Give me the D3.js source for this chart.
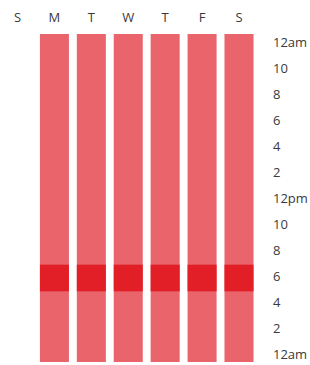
<!DOCTYPE html>
<html>
<head>
<meta charset="utf-8">
<script src="https://cdn.jsdelivr.net/npm/d3@7"></script>
<style>
  html, body { margin: 0; padding: 0; background: #fff; }
  text { font-family: "Open Sans", "Noto Sans", sans-serif; fill: #3a3a3a; }
</style>
</head>
<body>
<div id="chart"></div>
<script>
// week heatmap, one column per day, hours run bottom (12am) to top (12am)
var days = ['S', 'M', 'T', 'W', 'T', 'F', 'S'];
var dayActive = [false, true, true, true, true, true, true];
var hourLabels = ['12am', '10', '8', '6', '4', '2', '12pm', '10', '8', '6', '4', '2', '12am'];
var peakStart = [null, 5, 5, 5, 5, 5, 5];  // hour
var peakEnd = [null, 7, 7, 7, 7, 7, 7];

var width = 310, height = 365;
var colLight = '#e9646b', colDark = '#e21f27';

var svg = d3.select('#chart').append('svg')
  .attr('width', width)
  .attr('height', height);

var x = d3.scaleBand()
  .domain(d3.range(days.length))
  .range([3, 253.5])
  .paddingInner(0.214)
  .paddingOuter(0);

var y = d3.scaleLinear()
  .domain([-0.3, 24.3])
  .range([362, 34]);

var yLabel = d3.scalePoint()
  .domain(d3.range(hourLabels.length))
  .range([42, 353.5]);

var cols = svg.append('g').selectAll('g.day')
  .data(d3.range(days.length).filter(function(i) { return dayActive[i]; }))
  .enter().append('g')
  .attr('class', 'day');

cols.append('rect')
  .attr('x', function(i) { return x(i); })
  .attr('width', x.bandwidth())
  .attr('y', y(24.3))
  .attr('height', y(-0.3) - y(24.3))
  .style('fill', colLight);

cols.append('rect')
  .attr('x', function(i) { return x(i); })
  .attr('width', x.bandwidth())
  .attr('y', function(i) { return y(peakEnd[i]); })
  .attr('height', function(i) { return y(peakStart[i]) - y(peakEnd[i]); })
  .style('fill', colDark);

svg.append('g').selectAll('text')
  .data(days)
  .enter().append('text')
  .attr('x', function(d, i) { return x(i) + x.bandwidth() / 2; })
  .attr('y', 17)
  .attr('text-anchor', 'middle')
  .attr('dominant-baseline', 'central')
  .style('font-size', '13px')
  .text(function(d) { return d; });

svg.append('g').selectAll('text')
  .data(hourLabels)
  .enter().append('text')
  .attr('x', 273)
  .attr('y', function(d, i) { return yLabel(i); })
  .attr('dominant-baseline', 'central')
  .style('font-size', '13px')
  .text(function(d) { return d; });
</script>
</body>
</html>
